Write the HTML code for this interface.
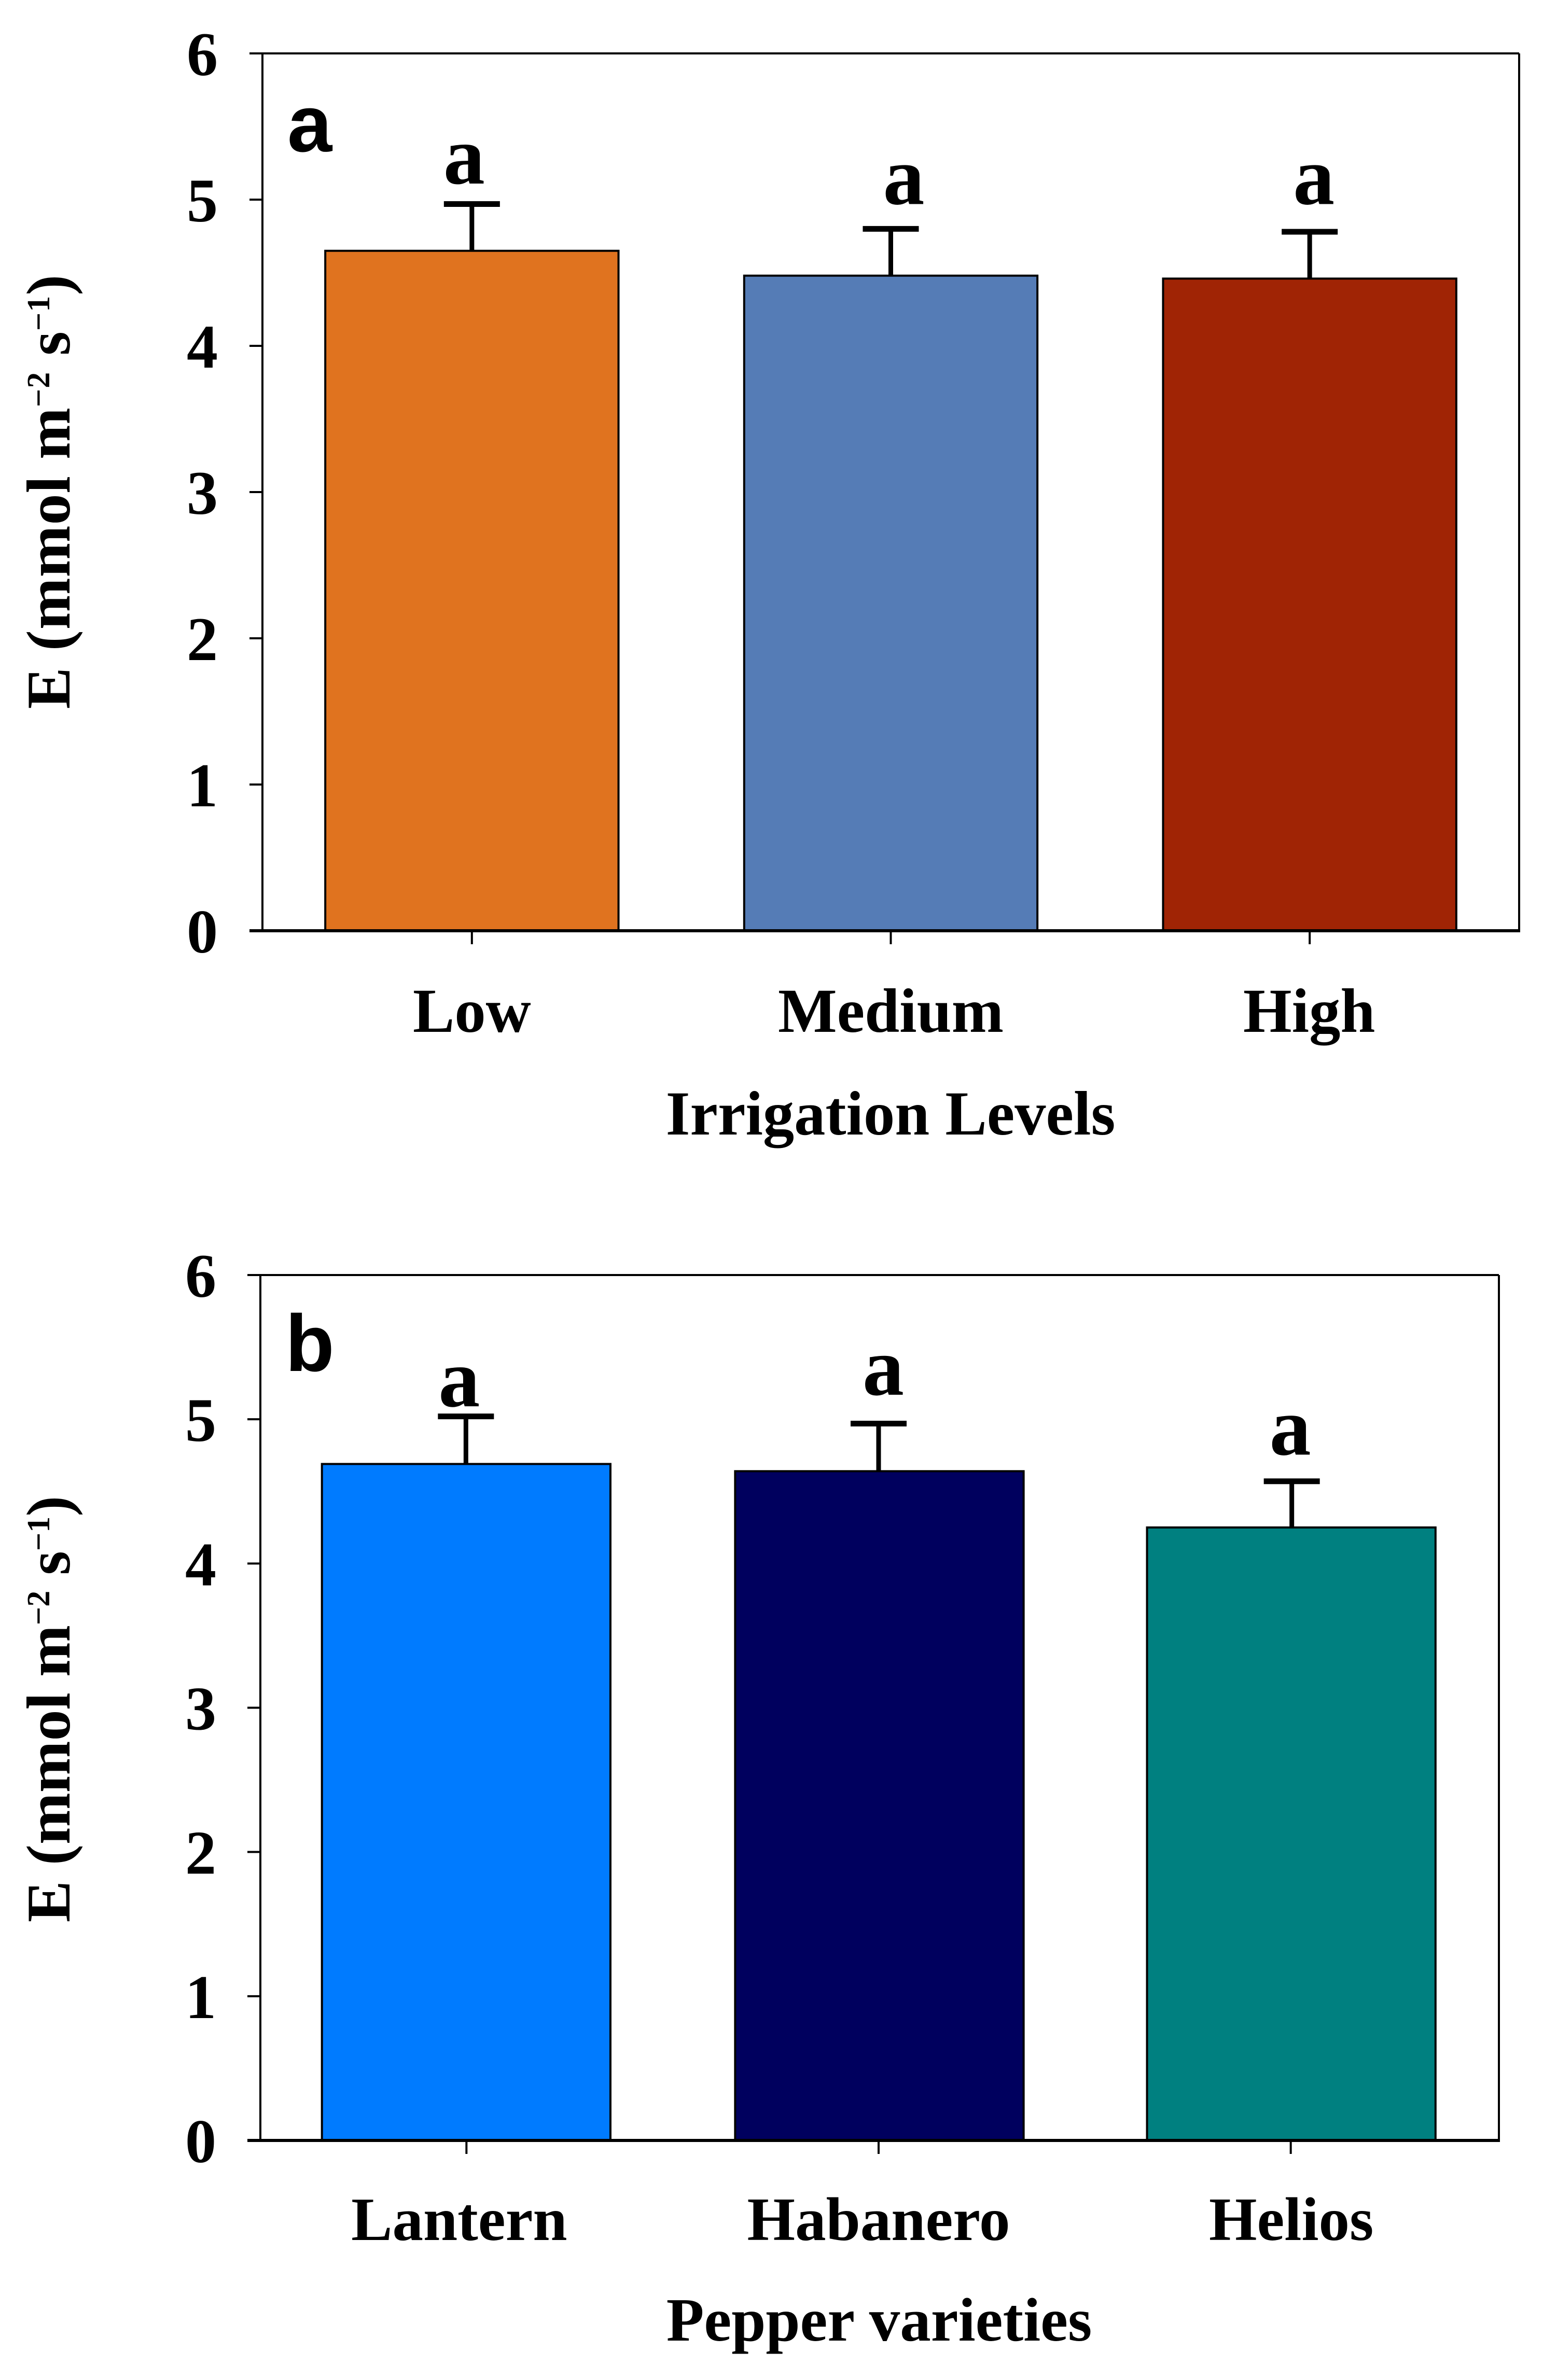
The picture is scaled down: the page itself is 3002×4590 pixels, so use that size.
<!DOCTYPE html>
<html lang="en">
<head>
<meta charset="utf-8">
<title>Transpiration by irrigation level and pepper variety</title>
<style>
  html, body { margin: 0; padding: 0; background: #fff; }
  svg { display: block; }
  text { font-family: "Liberation Serif", "Times New Roman", serif; font-weight: bold; fill: #000; }
  text.panel-letter { font-family: "Liberation Sans", Arial, sans-serif; }
</style>
</head>
<body>
<svg id="figure" xmlns="http://www.w3.org/2000/svg" width="3002" height="4590" viewBox="0 0 3002 4590">
  <rect x="0" y="0" width="3002" height="4590" fill="#ffffff"/>
  <g id="panel-a"></g>
  <g id="panel-b"></g>
</svg>
<script>
// Chart data
const yTickValues = [0, 1, 2, 3, 4, 5, 6];
const irrigationCategories = ['Low', 'Medium', 'High'];
const irrigationMeans = [4.65, 4.48, 4.46];
const irrigationErrors = [0.32, 0.32, 0.32];
const irrigationLetters = ['a', 'a', 'a'];
const varietyCategories = ['Lantern', 'Habanero', 'Helios'];
const varietyMeans = [4.69, 4.64, 4.25];
const varietyErrors = [0.33, 0.33, 0.32];
const varietyLetters = ['a', 'a', 'a'];

const SVG_NS = 'http://www.w3.org/2000/svg';

function make(parent, tag, geometry) {
  const el = document.createElementNS(SVG_NS, tag);
  for (const key in geometry) el.setAttribute(key, geometry[key]);
  parent.appendChild(el);
  return el;
}

function drawPanel(opts) {
  const g = document.getElementById(opts.id);
  const yScale = v => opts.yBottom - (v / 6) * (opts.yBottom - opts.yTop);
  const step = (opts.bandRight - opts.left) / opts.categories.length;
  const xScale = i => opts.left + (i + 0.5) * step;
  const barWidth = step * 0.7;
  const barCentre = i => xScale(i) + opts.barShift[i];

  // bars
  opts.means.forEach((mean, i) => {
    const bar = make(g, 'rect', {
      x: barCentre(i) - barWidth / 2, y: yScale(mean),
      width: barWidth, height: yScale(0) - yScale(mean),
      fill: opts.colors[i], stroke: '#000', 'stroke-width': 4
    });
    
    
  });

  // error bars
  opts.means.forEach((mean, i) => {
    const ex = xScale(i) + opts.errShift[i];
    const capY = yScale(mean + opts.errors[i]);
    const stem = make(g, 'line', {
      x1: ex, x2: ex, y1: yScale(mean), y2: capY, stroke: '#000', 'stroke-width': 9
    });
    
    
    const cap = make(g, 'line', {
      x1: ex - 54, x2: ex + 54, y1: capY, y2: capY, stroke: '#000', 'stroke-width': 11
    });
    
    

    const letter = make(g, 'text', {
      x: xScale(i) + opts.letterShift[i],
      y: yScale(mean + opts.errors[i] + opts.letterGap[i]),
      'font-size': 160, 'text-anchor': 'middle'
    });
    letter.textContent = opts.letters[i];
    
    
  });

  // plot frame
  const leftAxis = make(g, 'line', {
    x1: opts.left, x2: opts.left, y1: yScale(6), y2: yScale(0), stroke: '#000', 'stroke-width': 4
  });
  
  
  const rightEdge = make(g, 'line', {
    x1: opts.right, x2: opts.right, y1: yScale(6), y2: yScale(0), stroke: '#000', 'stroke-width': 4
  });
  
  
  const topEdge = make(g, 'line', {
    x1: opts.left, x2: opts.right, y1: yScale(6), y2: yScale(6), stroke: '#000', 'stroke-width': 4
  });
  
  
  const bottomAxis = make(g, 'line', {
    x1: opts.left - 25, x2: opts.right + 2, y1: yScale(0), y2: yScale(0), stroke: '#000', 'stroke-width': 6
  });
  
  

  // y ticks and labels
  yTickValues.forEach(v => {
    const tick = make(g, 'line', {
      x1: opts.left - 25, x2: opts.left, y1: yScale(v), y2: yScale(v),
      stroke: '#000', 'stroke-width': v === 0 ? 6 : 4
    });
    
    
    const label = make(g, 'text', {
      x: opts.left - opts.tickLabelGap, y: yScale(v) + 42, 'font-size': 120, 'text-anchor': 'middle'
    });
    label.textContent = String(v);
    
    
  });

  // x ticks and labels
  opts.categories.forEach((name, i) => {
    const tick = make(g, 'line', {
      x1: xScale(i), x2: xScale(i), y1: yScale(0), y2: yScale(0) + 26, stroke: '#000', 'stroke-width': 4
    });
    
    
    const label = make(g, 'text', {
      x: xScale(i) + opts.labelShift[i], y: opts.catBaseline,
      'font-size': opts.labelSize, 'text-anchor': 'middle'
    });
    label.textContent = name;
    
    
  });

  // x-axis title
  const xTitle = make(g, 'text', {
    x: opts.xTitleX, y: opts.xTitleY, 'font-size': opts.labelSize, 'text-anchor': 'middle'
  });
  xTitle.textContent = opts.xTitle;
  
  

  // y-axis title
  const yTitle = make(g, 'text', {
    x: 0, y: 0, 'font-size': 120, 'text-anchor': 'middle',
    'letter-spacing': opts.yTitleSpacing,
    transform: 'translate(134,' + opts.yTitleY + ') rotate(-90)'
  });
  
  
  const parts = [['E (mmol m', 0, 120], ['\u22122', -39, 62], [' s', 39, 120], ['\u22121', -39, 62], [')', 39, 120]];
  parts.forEach(p => {
    const span = make(yTitle, 'tspan', { dy: p[1], 'font-size': p[2] });
    span.setAttribute('xml:space', 'preserve');
    span.style.whiteSpace = 'pre';
    span.textContent = p[0];
  });

  // panel letter
  const panelLetter = make(g, 'text', {
    x: opts.panelX, y: opts.panelY, 'font-size': 155, 'class': 'panel-letter'
  });
  panelLetter.textContent = opts.panelLetter;
  
  
}

drawPanel({
  id: 'panel-a', left: 506, right: 2929, bandRight: 2929, yTop: 103, yBottom: 1795,
  categories: irrigationCategories, means: irrigationMeans, errors: irrigationErrors,
  letters: irrigationLetters, colors: ['#E0731F', '#557CB6', '#A02405'],
  barShift: [0, 0, 0], errShift: [0, 0, 0], labelShift: [0, 0, -1],
  letterShift: [-15, 25, 8], letterGap: [0.14, 0.17, 0.19],
  labelSize: 120.5, catBaseline: 1990, tickLabelGap: 116,
  xTitle: 'Irrigation Levels', xTitleX: 1717, xTitleY: 2188,
  yTitleY: 948, yTitleSpacing: 1, panelLetter: 'a', panelX: 554, panelY: 292
});

drawPanel({
  id: 'panel-b', left: 502, right: 2890, bandRight: 2886, yTop: 2459, yBottom: 4128,
  categories: varietyCategories, means: varietyMeans, errors: varietyErrors,
  letters: varietyLetters, colors: ['#007BFF', '#00005E', '#008080'],
  barShift: [-0.5, 1.5, 1], errShift: [-1, 0, 2], labelShift: [-14, 0, 1],
  letterShift: [-14, 9, -1], letterGap: [0.07, 0.2, 0.185],
  labelSize: 119, catBaseline: 4320, tickLabelGap: 115,
  xTitle: 'Pepper varieties', xTitleX: 1695, xTitleY: 4514,
  yTitleY: 3296, yTitleSpacing: 0, panelLetter: 'b', panelX: 550, panelY: 2644
});
</script>
</body>
</html>
